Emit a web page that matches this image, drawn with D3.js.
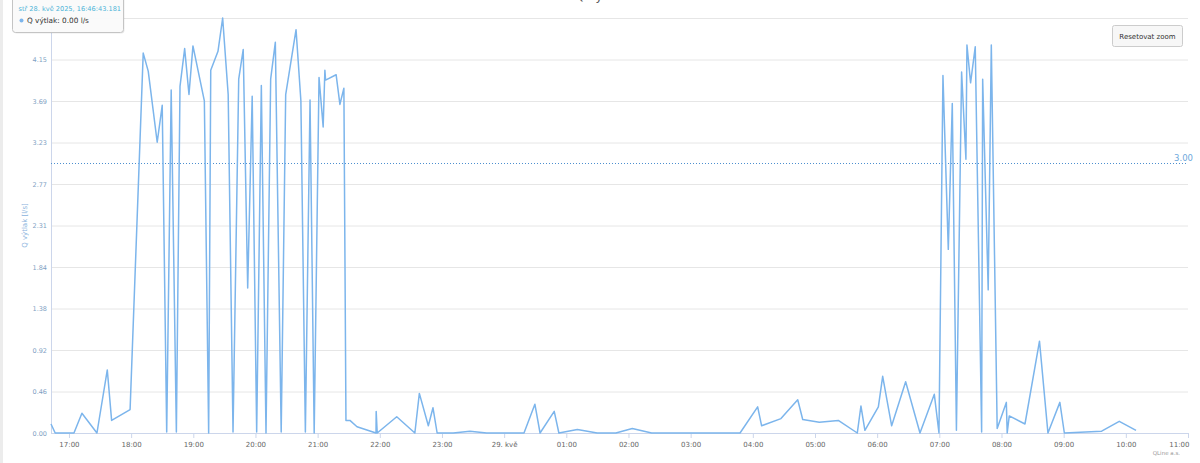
<!DOCTYPE html>
<html>
<head>
<meta charset="utf-8">
<script src="https://cdn.jsdelivr.net/npm/d3@7"></script>
<style>
html,body{margin:0;padding:0;background:#fff;}
svg{display:block;font-family:"DejaVu Sans",Verdana,sans-serif;}
</style>
</head>
<body>
<svg id="chart" width="1200" height="463"></svg>
<script>
// ---- data ----
const times = [
"2025-05-28T16:42:40","2025-05-28T16:46:43","2025-05-28T17:04:50","2025-05-28T17:12:30","2025-05-28T17:27:00",
"2025-05-28T17:37:00","2025-05-28T17:41:10","2025-05-28T17:59:00","2025-05-28T18:11:40","2025-05-28T18:16:30",
"2025-05-28T18:25:10","2025-05-28T18:30:00","2025-05-28T18:34:20","2025-05-28T18:38:40","2025-05-28T18:43:40",
"2025-05-28T18:47:10","2025-05-28T18:51:40","2025-05-28T18:55:50","2025-05-28T18:59:40","2025-05-28T19:10:40",
"2025-05-28T19:14:50","2025-05-28T19:16:50","2025-05-28T19:23:50","2025-05-28T19:28:20","2025-05-28T19:33:40",
"2025-05-28T19:38:20","2025-05-28T19:43:50","2025-05-28T19:48:10","2025-05-28T19:52:30","2025-05-28T19:56:50",
"2025-05-28T20:01:10","2025-05-28T20:05:40","2025-05-28T20:10:10","2025-05-28T20:14:40","2025-05-28T20:19:10",
"2025-05-28T20:24:50","2025-05-28T20:29:10","2025-05-28T20:39:10","2025-05-28T20:43:50","2025-05-28T20:48:10",
"2025-05-28T20:52:40","2025-05-28T20:56:40","2025-05-28T21:01:20","2025-05-28T21:05:20","2025-05-28T21:07:00",
"2025-05-28T21:07:40","2025-05-28T21:17:50","2025-05-28T21:21:30","2025-05-28T21:25:20","2025-05-28T21:27:20",
"2025-05-28T21:31:10","2025-05-28T21:38:00","2025-05-28T21:56:20","2025-05-28T21:56:30","2025-05-28T21:57:30",
"2025-05-28T22:16:20","2025-05-28T22:33:50","2025-05-28T22:38:10","2025-05-28T22:46:50","2025-05-28T22:51:20",
"2025-05-28T22:55:20","2025-05-28T23:10:50","2025-05-28T23:27:00","2025-05-28T23:43:10","2025-05-29T00:19:10",
"2025-05-29T00:29:40","2025-05-29T00:34:40","2025-05-29T00:48:20","2025-05-29T00:52:50","2025-05-29T01:10:40",
"2025-05-29T01:29:50","2025-05-29T01:47:50","2025-05-29T02:03:40","2025-05-29T02:22:20","2025-05-29T03:47:40",
"2025-05-29T04:04:40","2025-05-29T04:08:30","2025-05-29T04:27:10","2025-05-29T04:43:20","2025-05-29T04:48:10",
"2025-05-29T05:04:10","2025-05-29T05:22:30","2025-05-29T05:40:50","2025-05-29T05:44:20","2025-05-29T05:48:10",
"2025-05-29T06:01:10","2025-05-29T06:05:20","2025-05-29T06:14:00","2025-05-29T06:27:30","2025-05-29T06:41:20",
"2025-05-29T06:55:10","2025-05-29T06:59:40","2025-05-29T07:03:30","2025-05-29T07:08:40","2025-05-29T07:12:30",
"2025-05-29T07:16:30","2025-05-29T07:21:30","2025-05-29T07:25:40","2025-05-29T07:26:40","2025-05-29T07:30:10",
"2025-05-29T07:34:40","2025-05-29T07:40:50","2025-05-29T07:41:50","2025-05-29T07:47:10","2025-05-29T07:50:10",
"2025-05-29T07:55:50","2025-05-29T08:04:40","2025-05-29T08:05:30","2025-05-29T08:07:30","2025-05-29T08:22:40",
"2025-05-29T08:36:40","2025-05-29T08:44:50","2025-05-29T08:56:20","2025-05-29T09:00:40","2025-05-29T09:36:40",
"2025-05-29T09:53:40","2025-05-29T10:09:50"
];
const qVytlak = [
0.10,0.00,0.00,0.22,0.00,
0.70,0.14,0.26,4.22,4.02,
3.23,3.64,0.01,3.81,0.01,
3.85,4.27,3.76,4.30,3.69,
0.00,4.03,4.24,4.61,3.76,
0.01,3.93,4.26,1.61,3.74,
0.01,3.86,0.00,3.93,4.34,
0.01,3.76,4.48,3.69,0.01,
3.70,0.00,3.95,3.40,4.03,
3.92,3.98,3.65,3.83,0.14,
0.14,0.07,0.00,0.24,0.00,
0.18,0.00,0.44,0.08,0.28,
0.00,0.00,0.02,0.00,0.00,
0.32,0.00,0.24,0.00,0.04,
0.00,0.00,0.05,0.00,0.00,
0.29,0.08,0.16,0.37,0.15,
0.12,0.14,0.00,0.30,0.03,
0.29,0.63,0.08,0.57,0.00,
0.43,0.00,3.97,2.04,3.66,
0.03,4.01,3.04,4.31,3.89,
4.29,0.01,3.93,1.59,4.31,
0.05,0.34,0.00,0.19,0.10,
1.02,0.00,0.34,0.00,0.02,
0.13,0.03
];
// top gridline (4.61) label is hidden under the tooltip in the reference
const yTickValues = [0, 0.461, 0.922, 1.383, 1.844, 2.305, 2.766, 3.227, 3.688, 4.149, 4.61];
const yTickLabels = ["0.00","0.46","0.92","1.38","1.84","2.31","2.77","3.23","3.69","4.15",""];
const xTickTimes = ["2025-05-28T17:00","2025-05-28T18:00","2025-05-28T19:00","2025-05-28T20:00","2025-05-28T21:00",
  "2025-05-28T22:00","2025-05-28T23:00","2025-05-29T00:00","2025-05-29T01:00","2025-05-29T02:00","2025-05-29T03:00",
  "2025-05-29T04:00","2025-05-29T05:00","2025-05-29T06:00","2025-05-29T07:00","2025-05-29T08:00","2025-05-29T09:00",
  "2025-05-29T10:00","2025-05-29T11:00"];
const xTickLabels = ["17:00","18:00","19:00","20:00","21:00","22:00","23:00","29. kvě","01:00","02:00","03:00",
  "04:00","05:00","06:00","07:00","08:00","09:00","10:00","11:00"];
const xDomain = ["2025-05-28T16:42:40","2025-05-29T11:00:00"];
const yDomain = [0, 4.61];
const thresholdValue = 3.00;
const thresholdLabel = "3.00";
const chartTitle = "Q výtlak";
const yAxisTitle = "Q výtlak [l/s]";
const tooltipHeader = "stř 28. kvě 2025, 16:46:43.181";
const tooltipBody = "Q výtlak: 0.00 l/s";
const resetLabel = "Resetovat zoom";
const creditsLabel = "QLine a.s.";

// ---- layout ----
const parse = d3.isoParse;
const plot = {left: 51, right: 1188, top: 18, bottom: 433};
const svg = d3.select("#chart");

const x = d3.scaleTime().domain(xDomain.map(parse)).range([plot.left, plot.right]);
const y = d3.scaleLinear().domain(yDomain).range([plot.bottom, plot.top]);

// page edge strip
svg.append("rect").attr("x",0).attr("y",0).attr("width",3).attr("height",463).attr("fill","#ececec");

// title (mostly above the visible top edge, as in the reference)
svg.append("text").attr("x",600).attr("y",-0.5).attr("text-anchor","middle")
  .attr("font-size",12).attr("fill","#555").text(chartTitle);

// grid + y labels
const yAxisG = svg.append("g").attr("transform",`translate(${plot.left},0)`)
  .call(d3.axisLeft(y).tickValues(yTickValues).tickSize(-(plot.right-plot.left)).tickPadding(4)
    .tickFormat((d,i)=>yTickLabels[i]));
yAxisG.select(".domain").remove();
yAxisG.selectAll(".tick line").attr("stroke","#e6e6e6").attr("stroke-width",1);
yAxisG.selectAll(".tick text").attr("fill","#7f9fc3").attr("font-size",6.5)
  .attr("font-family","DejaVu Sans, sans-serif");

// y axis line
svg.append("line").attr("x1",plot.left+0.5).attr("x2",plot.left+0.5).attr("y1",0).attr("y2",plot.bottom)
  .attr("stroke","#ccd6eb").attr("stroke-width",1);

// x axis
const xAxisG = svg.append("g").attr("transform",`translate(0,${plot.bottom})`)
  .call(d3.axisBottom(x).tickValues(xTickTimes.map(parse)).tickSize(5).tickPadding(4)
    .tickFormat((d,i)=>xTickLabels[i]));
xAxisG.select(".domain").attr("stroke","#ccd6eb").attr("d",`M${plot.left},0.5H${plot.right}`);
xAxisG.selectAll(".tick line").attr("stroke","#ccd6eb");
xAxisG.selectAll(".tick text").attr("fill","#666").attr("font-size",7)
  .attr("font-family","DejaVu Sans, sans-serif");
xAxisG.selectAll(".tick text").filter((d,i)=>i===xTickLabels.length-1).attr("text-anchor","end").attr("dx",1);

// y axis title
svg.append("text").attr("transform",`translate(27,${(plot.top+plot.bottom)/2}) rotate(-90)`)
  .attr("text-anchor","middle").attr("font-size",7).attr("fill","#8ab3dd").text(yAxisTitle);

// threshold plot line
const yT = Math.round(y(thresholdValue))+0.5;
svg.append("line").attr("x1",plot.left).attr("x2",plot.right).attr("y1",yT).attr("y2",yT)
  .attr("stroke","#4d8fcf").attr("stroke-width",1).attr("stroke-dasharray","1,2");
svg.append("text").attr("x",1193).attr("y",yT-2.5).attr("text-anchor","end")
  .attr("font-size",8.5).attr("fill","#6fa8dc").text(thresholdLabel);

// series
const data = times.map((t,i)=>({t:parse(t), v:qVytlak[i]}));
svg.append("path").datum(data)
  .attr("fill","none").attr("stroke","#7cb5ec").attr("stroke-width",1.5).attr("stroke-linejoin","round")
  .attr("d", d3.line().x(d=>x(d.t)).y(d=>y(d.v)));

// reset zoom button
const btn = svg.append("g").attr("transform","translate(1112.5,25.5)");
btn.append("rect").attr("width",70).attr("height",21).attr("rx",2)
  .attr("fill","#f7f7f7").attr("stroke","#cccccc");
btn.append("text").attr("x",35).attr("y",13.5).attr("text-anchor","middle")
  .attr("font-size",7).attr("fill","#333").text(resetLabel);

// credits
svg.append("text").attr("x",1180).attr("y",455).attr("text-anchor","end")
  .attr("font-size",5.5).attr("fill","#999").text(creditsLabel);

// tooltip
const tt = svg.append("g").attr("transform","translate(12.5,-5.5)");
tt.append("rect").attr("x",1).attr("y",1).attr("width",111).attr("height",38).attr("rx",3)
  .attr("fill","rgba(0,0,0,0.08)");
tt.append("rect").attr("width",111).attr("height",38).attr("rx",3)
  .attr("fill","rgba(250,250,250,0.97)").attr("stroke","#c4c4c4");
tt.append("text").attr("x",6).attr("y",16).attr("font-size",6.6).attr("fill","#4db4d8").text(tooltipHeader);
tt.append("circle").attr("cx",9).attr("cy",26).attr("r",2).attr("fill","#7cb5ec");
tt.append("text").attr("x",14.5).attr("y",28.5).attr("font-size",7.3).attr("fill","#333").text(tooltipBody);
</script>
</body>
</html>
